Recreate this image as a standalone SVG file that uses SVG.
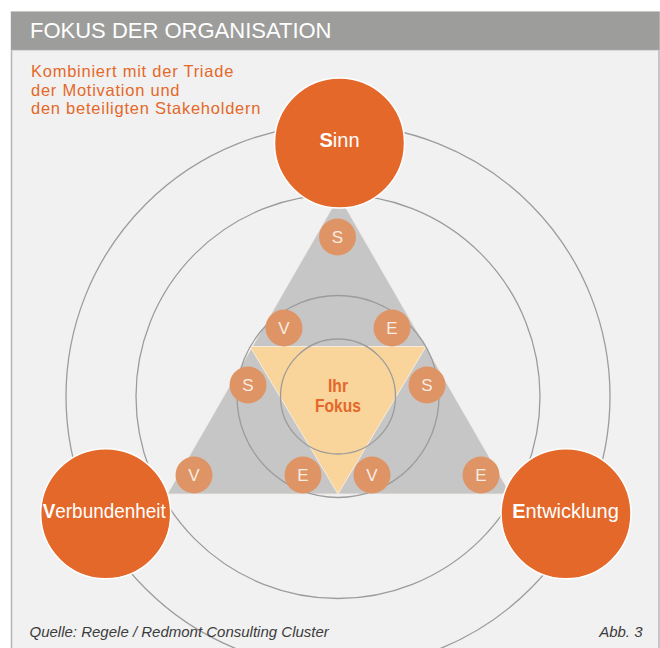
<svg xmlns="http://www.w3.org/2000/svg" width="660" height="648" viewBox="0 0 660 648">
  <style>
    .ring { fill: none; stroke: #9c9c9c; stroke-width: 1.3; }
    .big { fill: #e4682a; stroke: #ffffff; stroke-width: 1.5; }
    .big-label { font-family: "Liberation Sans", Arial, sans-serif; font-size: 20px; fill: #ffffff; text-anchor: middle; }
    .big-label .initial { font-weight: bold; }
    .chip { fill: #df9466; }
    .chip-label { font-family: "Liberation Sans", Arial, sans-serif; font-size: 17px; fill: #f7ece2; text-anchor: middle; }
    .intro { font-family: "Liberation Sans", Arial, sans-serif; font-size: 16.5px; letter-spacing: 0.75px; fill: #e4682a; }
    .foot { font-family: "Liberation Sans", Arial, sans-serif; font-size: 15px; font-style: italic; fill: #3c3c3c; }
  </style>

  <!-- panel and title bar -->
  <rect x="0" y="0" width="660" height="648" fill="#ffffff"/>
  <rect x="11.5" y="12" width="647.5" height="650" fill="#f1f1f1" stroke="#b5b5b5" stroke-width="1.5"/>
  <rect x="11" y="12" width="648.5" height="38" fill="#9d9d9b"/>
  <line x1="11" y1="50.3" x2="659.5" y2="50.3" stroke="#c9c9c9" stroke-width="0.8"/>
  <text x="30" y="37.5" font-family="'Liberation Sans', Arial, sans-serif" font-size="22" fill="#ffffff">FOKUS DER ORGANISATION</text>

  <!-- intro text -->
  <text class="intro" x="31" y="77">Kombiniert mit der Triade</text>
  <text class="intro" x="31" y="95.5">der Motivation und</text>
  <text class="intro" x="31" y="114">den beteiligten Stakeholdern</text>

  <!-- triangles -->
  <g id="triangles">
    <polygon points="339,196 510.5,494 167.5,494" fill="#c6c6c6" stroke="#f3ece3" stroke-width="0.8"/>
    <polygon points="250,346.5 426,346.5 338,494" fill="#f9d49b" stroke="#fbf3e8" stroke-width="0.8"/>
  </g>

  <!-- concentric rings -->
  <g id="connectors">
    <circle class="ring" cx="338" cy="396.5" r="57.5"/>
    <circle class="ring" cx="338" cy="396.5" r="101"/>
    <circle class="ring" cx="338" cy="396.5" r="202"/>
    <circle class="ring" cx="338" cy="396.5" r="272"/>
  </g>

  <!-- centre label -->
  <g id="fokus">
    <text x="338" y="391.5" font-family="'Liberation Sans', Arial, sans-serif" font-size="18" font-weight="bold" fill="#e4682a" text-anchor="middle" textLength="20" lengthAdjust="spacingAndGlyphs">Ihr</text>
    <text x="338" y="412.3" font-family="'Liberation Sans', Arial, sans-serif" font-size="18" font-weight="bold" fill="#e4682a" text-anchor="middle" textLength="46" lengthAdjust="spacingAndGlyphs">Fokus</text>
  </g>

  <!-- small S / V / E markers -->
  <g id="chip-s-top"><circle class="chip" cx="337.5" cy="237" r="18.5"/><text class="chip-label" x="337.5" y="243.2">S</text></g>
  <g id="chip-v-upper"><circle class="chip" cx="284" cy="328" r="18.5"/><text class="chip-label" x="284" y="334.2">V</text></g>
  <g id="chip-e-upper"><circle class="chip" cx="392" cy="328" r="18.5"/><text class="chip-label" x="392" y="334.2">E</text></g>
  <g id="chip-s-left"><circle class="chip" cx="248" cy="385" r="18.5"/><text class="chip-label" x="248" y="391.2">S</text></g>
  <g id="chip-s-right"><circle class="chip" cx="427" cy="385" r="18.5"/><text class="chip-label" x="427" y="391.2">S</text></g>
  <g id="chip-v-left"><circle class="chip" cx="194" cy="475" r="18.5"/><text class="chip-label" x="194" y="481.2">V</text></g>
  <g id="chip-e-mid"><circle class="chip" cx="303" cy="475" r="18.5"/><text class="chip-label" x="303" y="481.2">E</text></g>
  <g id="chip-v-mid"><circle class="chip" cx="372" cy="475" r="18.5"/><text class="chip-label" x="372" y="481.2">V</text></g>
  <g id="chip-e-right"><circle class="chip" cx="481" cy="475" r="18.5"/><text class="chip-label" x="481" y="481.2">E</text></g>

  <!-- main nodes -->
  <g id="sinn">
    <circle class="big" cx="339.5" cy="143" r="65"/>
    <text class="big-label" x="339.5" y="147.3"><tspan class="initial">S</tspan>inn</text>
  </g>
  <g id="verbundenheit">
    <circle class="big" cx="105.7" cy="513.7" r="65"/>
    <text class="big-label" x="104.2" y="517.5" textLength="123" lengthAdjust="spacingAndGlyphs"><tspan class="initial">V</tspan>erbundenheit</text>
  </g>
  <g id="entwicklung">
    <circle class="big" cx="566" cy="513.7" r="65"/>
    <text class="big-label" x="565.5" y="518.3"><tspan class="initial">E</tspan>ntwicklung</text>
  </g>

  <!-- footer -->
  <text class="foot" x="29.5" y="637.3">Quelle: Regele / Redmont Consulting Cluster</text>
  <text class="foot" x="642.5" y="637.3" text-anchor="end">Abb. 3</text>
</svg>
